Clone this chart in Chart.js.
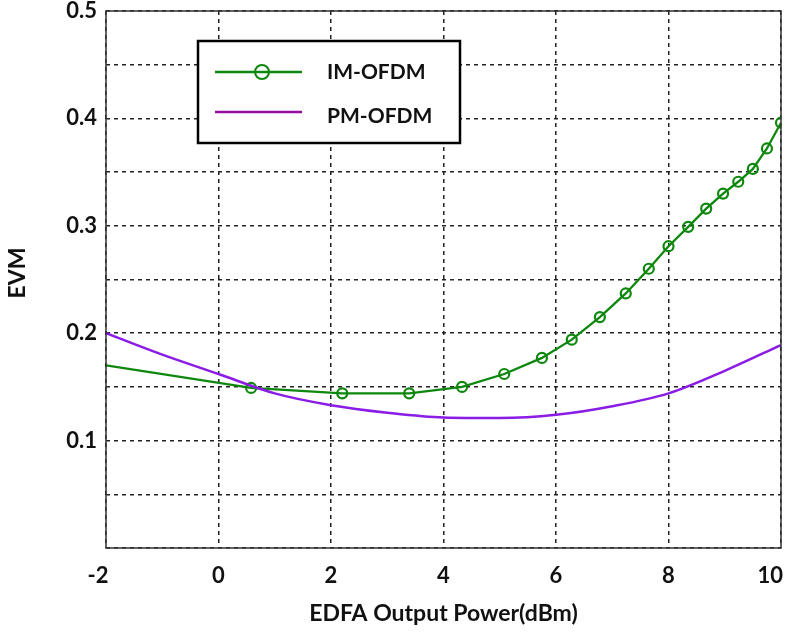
<!DOCTYPE html>
<html>
<head>
<meta charset="utf-8">
<script src="https://cdn.jsdelivr.net/npm/chart.js@4.4.1/dist/chart.umd.min.js"></script>
<style>
  html, body { margin: 0; padding: 0; background: #fff; }
  #wrap { width: 792px; height: 632px; }
</style>
</head>
<body>
<div id="wrap"><canvas id="evmChart" width="792" height="632"></canvas></div>
<script>
// IM-OFDM measured points (dBm, EVM)
const imPower = [-2, 0.58, 2.2, 3.39, 4.33, 5.08, 5.75, 6.28, 6.78, 7.24, 7.65, 8.0, 8.35, 8.67, 8.97, 9.24, 9.5, 9.75, 10];
const imEvm = [0.170, 0.149, 0.144, 0.144, 0.150, 0.162, 0.177, 0.194, 0.215, 0.237, 0.260, 0.281, 0.299, 0.316, 0.330, 0.341, 0.353, 0.372, 0.396];

// PM-OFDM curve
const pmPower = [-2, -1, 0, 1, 2, 3, 4, 5, 6, 7, 8, 9, 10];
const pmEvm = [0.200, 0.180, 0.162, 0.144, 0.133, 0.126, 0.1215, 0.121, 0.124, 0.132, 0.144, 0.165, 0.189];

const xTicks = [-2, 0, 2, 4, 6, 8, 10];
const yTickLabels = ['0.1', '0.2', '0.3', '0.4', '0.5'];

const GREEN = '#0d870d';
const VIOLET = '#8a1ce6';
const LEGEND_PURPLE = '#930f9c';
const FONT = 'Lato, "Open Sans", sans-serif';
const NBSP = '\u00a0';

const toPoints = (xs, ys) => xs.map((x, i) => ({ x: x, y: ys[i] }));

// box around the plot, y title and legend box
const framePlugin = {
  id: 'frame',
  afterDraw(chart) {
    const { ctx, chartArea: a } = chart;
    ctx.save();
    ctx.strokeStyle = '#333';
    ctx.lineWidth = 1.5;
    ctx.strokeRect(a.left, a.top, a.right - a.left, a.bottom - a.top);

    // y axis title
    ctx.save();
    ctx.translate(18, 273);
    ctx.rotate(-Math.PI / 2);
    ctx.fillStyle = '#111';
    ctx.font = 'bold 23px ' + FONT;
    ctx.textAlign = 'center';
    ctx.textBaseline = 'middle';
    ctx.fillText('EVM', 0, 0);
    ctx.restore();

    // legend
    const bx = 198, by = 41, bw = 262, bh = 102;
    ctx.fillStyle = '#fff';
    ctx.fillRect(bx, by, bw, bh);
    ctx.strokeStyle = '#000';
    ctx.lineWidth = 2.5;
    ctx.strokeRect(bx, by, bw, bh);

    ctx.lineWidth = 2.5;
    ctx.strokeStyle = GREEN;
    ctx.beginPath(); ctx.moveTo(215, 72); ctx.lineTo(302, 72); ctx.stroke();
    ctx.lineWidth = 2;
    ctx.beginPath(); ctx.arc(262, 72, 7, 0, Math.PI * 2); ctx.stroke();

    ctx.lineWidth = 2.5;
    ctx.strokeStyle = LEGEND_PURPLE;
    ctx.beginPath(); ctx.moveTo(215, 112); ctx.lineTo(302, 112); ctx.stroke();

    ctx.fillStyle = '#111';
    ctx.font = 'bold 21px ' + FONT;
    ctx.textBaseline = 'middle';
    ctx.textAlign = 'left';
    ctx.fillText('IM-OFDM', 327, 72);
    ctx.fillText('PM-OFDM', 327, 116);
    ctx.restore();
  }
};

const ctx = document.getElementById('evmChart').getContext('2d');
const evmChart = new Chart(ctx, {
  type: 'line',
  data: {
    datasets: [
      {
        label: 'PM-OFDM',
        data: toPoints(pmPower, pmEvm),
        borderColor: VIOLET,
        borderWidth: 2.5,
        pointRadius: 0,
        cubicInterpolationMode: 'monotone',
        fill: false
      },
      {
        label: 'IM-OFDM',
        data: toPoints(imPower, imEvm),
        borderColor: GREEN,
        borderWidth: 2.3,
        pointRadius: imPower.map((x, i) => i === 0 ? 0 : 5),
        pointBorderWidth: 2.2,
        pointBorderColor: GREEN,
        pointBackgroundColor: 'rgba(0,0,0,0)',
        tension: 0,
        fill: false
      }
    ]
  },
  options: {
    responsive: false,
    animation: false,
    layout: { padding: { top: 11, right: 11, left: 0, bottom: 0 } },
    plugins: {
      legend: { display: false },
      tooltip: { enabled: false }
    },
    scales: {
      x: {
        type: 'linear',
        min: -2,
        max: 10,
        afterBuildTicks: (axis) => { axis.ticks = xTicks.map(v => ({ value: v })); },
        afterFit: (axis) => {
          axis.height = 84;
          axis.paddingLeft = 0;
          axis.paddingRight = 0;
        },
        grid: { color: '#222', lineWidth: 1.5, drawTicks: false },
        border: { display: false, dash: [4, 4] },
        ticks: {
          color: '#111',
          padding: 15,
          maxRotation: 0,
          font: { family: FONT, size: 22, weight: 'bold' },
          callback: (v) => {
            if (v === 10) return '10' + NBSP.repeat(4);
            if (v === -2) return '-2' + NBSP.repeat(3);
            return String(v);
          }
        },
        title: {
          display: true,
          text: 'EDFA Output Power(dBm)',
          color: '#111',
          padding: { top: 0, bottom: 5 },
          font: { family: FONT, size: 23, weight: 'bold' }
        }
      },
      y: {
        type: 'linear',
        min: 0,
        max: 0.5,
        afterFit: (axis) => {
          axis.width = 106;
          axis.paddingTop = 0;
          axis.paddingBottom = 0;
        },
        grid: { color: '#222', lineWidth: 1.5, drawTicks: false },
        border: { display: false, dash: [4, 4] },
        ticks: {
          stepSize: 0.05,
          color: '#111',
          padding: 9,
          font: { family: FONT, size: 22, weight: 'bold' },
          callback: (v) => {
            const k = Math.round(v * 10);
            return Math.abs(v * 10 - k) < 1e-6 && k > 0 ? yTickLabels[k - 1] : '';
          }
        }
      }
    }
  },
  plugins: [framePlugin]
});
</script>
</body>
</html>
